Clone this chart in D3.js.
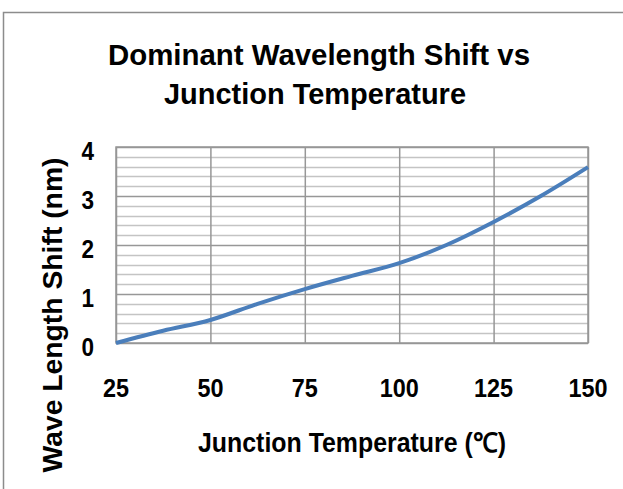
<!DOCTYPE html>
<html>
<head>
<meta charset="utf-8">
<script src="https://cdn.jsdelivr.net/npm/d3@7"></script>
<style>
  html, body { margin: 0; padding: 0; background: #fff; }
  svg { display: block; }
  text { font-family: "Liberation Sans", Arial, sans-serif; fill: #000; }
</style>
</head>
<body>
<script>
// Data
const temperatures = [25, 37.5, 50, 62.5, 75, 87.5, 100, 112.5, 125, 137.5, 150];
const wavelengthShift = [0, 0.25, 0.47, 0.80, 1.10, 1.37, 1.63, 2.00, 2.47, 3.00, 3.59];
const xTicks = [25, 50, 75, 100, 125, 150];
const yTicks = [0, 1, 2, 3, 4];
const yMinorStep = 0.2;
const titleLines = ["Dominant Wavelength Shift vs", "Junction Temperature"];
const xTitle = "Junction Temperature (\u2103)";
const yTitle = "Wave Length Shift (nm)";

const W = 623, H = 489;
const plot = { left: 116, right: 588, top: 147, bottom: 343 };

const svg = d3.select("body").append("svg").attr("width", W).attr("height", H);

// outer chart border
svg.append("rect")
  .attr("x", 3.5).attr("y", 12.5)
  .attr("width", W + 10).attr("height", H + 10)
  .attr("fill", "none").attr("stroke", "#8c8c8c").attr("stroke-width", 1.5);

const x = d3.scaleLinear().domain([25, 150]).range([plot.left, plot.right]);
const y = d3.scaleLinear().domain([0, 4]).range([plot.bottom, plot.top]);

// minor horizontal gridlines
const minor = d3.range(0, 4 + 1e-9, yMinorStep).filter(v => Math.abs(v - Math.round(v)) > 1e-6);
svg.append("g").selectAll("line").data(minor).join("line")
  .attr("x1", plot.left).attr("x2", plot.right)
  .attr("y1", d => Math.round(y(d)) + 0.5).attr("y2", d => Math.round(y(d)) + 0.5)
  .attr("stroke", "#c4c4c4").attr("stroke-width", 1.5);

// major gridlines via axes
const yGrid = d3.axisLeft(y).tickValues(yTicks).tickSize(-(plot.right - plot.left)).tickFormat("");
const gy = svg.append("g").attr("transform", `translate(${plot.left},0)`).call(yGrid);
gy.select(".domain").remove();
gy.selectAll("line").attr("stroke", "#979797").attr("stroke-width", 1.5);

const xGrid = d3.axisBottom(x).tickValues(xTicks).tickSize(-(plot.bottom - plot.top)).tickFormat("");
const gx = svg.append("g").attr("transform", `translate(0,${plot.bottom})`).call(xGrid);
gx.select(".domain").remove();
gx.selectAll("line").attr("stroke", "#979797").attr("stroke-width", 1.5);

// plot border
svg.append("rect")
  .attr("x", plot.left).attr("y", plot.top)
  .attr("width", plot.right - plot.left).attr("height", plot.bottom - plot.top)
  .attr("fill", "none").attr("stroke", "#979797").attr("stroke-width", 1.5);

// line
const line = d3.line()
  .x((d, i) => x(temperatures[i]))
  .y(d => y(d))
  .curve(d3.curveMonotoneX);
svg.append("path")
  .datum(wavelengthShift)
  .attr("d", line)
  .attr("fill", "none")
  .attr("stroke", "#4a7ebb")
  .attr("stroke-width", 4)
  .attr("stroke-linecap", "butt");

// tick labels
svg.append("g").selectAll("text").data(yTicks).join("text")
  .attr("x", 94).attr("y", d => y(d) + 4)
  .attr("text-anchor", "end").attr("dominant-baseline", "central")
  .attr("font-size", 25).attr("font-weight", "bold")
  .attr("transform", d => `translate(${94 * 0.1},0) scale(0.9,1)`)
  .text(d => d);

svg.append("g").selectAll("text").data(xTicks).join("text")
  .attr("x", d => x(d) / 0.9).attr("y", 397)
  .attr("text-anchor", "middle")
  .attr("font-size", 26).attr("font-weight", "bold")
  .attr("transform", "scale(0.9,1)")
  .text(d => d);

// title
svg.append("text").attr("x", 319).attr("y", 65).attr("text-anchor", "middle")
  .attr("font-size", 30).attr("font-weight", "bold")
  .attr("textLength", 422).attr("lengthAdjust", "spacingAndGlyphs")
  .text(titleLines[0]);
svg.append("text").attr("x", 315).attr("y", 104).attr("text-anchor", "middle")
  .attr("font-size", 30).attr("font-weight", "bold")
  .attr("textLength", 302).attr("lengthAdjust", "spacingAndGlyphs")
  .text(titleLines[1]);

// axis titles
svg.append("text").attr("x", 352).attr("y", 452).attr("text-anchor", "middle")
  .attr("font-size", 27).attr("font-weight", "bold")
  .attr("textLength", 308).attr("lengthAdjust", "spacingAndGlyphs")
  .text(xTitle);

svg.append("text")
  .attr("transform", "translate(62,315) rotate(-90)")
  .attr("text-anchor", "middle")
  .attr("font-size", 27).attr("font-weight", "bold")
  .attr("textLength", 315).attr("lengthAdjust", "spacingAndGlyphs")
  .text(yTitle);
</script>
</body>
</html>
